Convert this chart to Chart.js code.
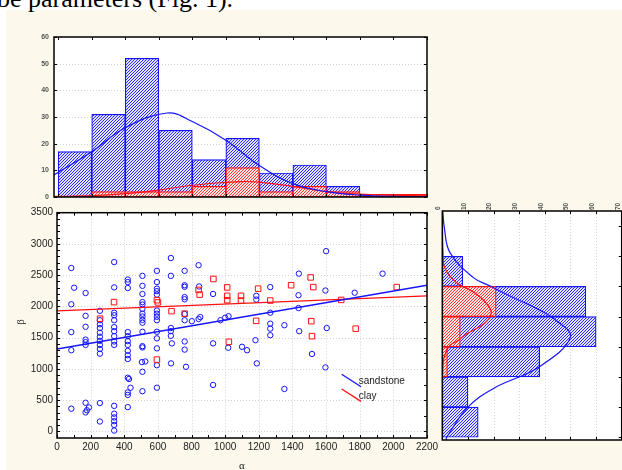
<!DOCTYPE html>
<html>
<head>
<meta charset="utf-8">
<script src="https://cdn.jsdelivr.net/npm/chart.js@4/dist/chart.umd.min.js"></script>
<style>
  html, body { margin: 0; padding: 0; width: 622px; height: 470px; overflow: hidden; background: #ffffff; }
  #paper { position: absolute; left: 6px; top: 10px; right: 0; bottom: 0; background: #fdf8ec; }
  #caption { position: absolute; left: -3px; top: -14px; font: 26px "Liberation Serif", "Times New Roman", serif;
             line-height: 26px; color: #000; white-space: nowrap; }
  canvas { position: absolute; }
  #cTop  { left: 0;     top: 20px;  width: 440px; height: 180px; }
  #cMain { left: 0;     top: 200px; width: 460px; height: 270px; }
  #cSide { left: 430px; top: 195px; width: 192px; height: 275px; }
</style>
</head>
<body>
<div id="paper"></div>
<div id="caption">be parameters (Fig. 1).</div>
<canvas id="cTop" width="440" height="180"></canvas>
<canvas id="cMain" width="460" height="270"></canvas>
<canvas id="cSide" width="192" height="275"></canvas>
<script>
// ---- α histogram (bins of width 200) ----
const alphaBinCentres = [100, 300, 500, 700, 900, 1100, 1300, 1500, 1700, 1900, 2100];
const alphaSandstone  = [17, 31, 52, 25, 14, 22, 9, 12, 4, 0, 0];
const alphaClay       = [0, 2, 2, 2, 4, 11, 2, 4, 2, 1, 1];
const alphaFitSandX   = [-25, 200, 400, 650, 800, 1000, 1200, 1400, 1600, 1800, 2000, 2200];
const alphaFitSandY   = [8.3, 17, 26, 31.5, 28.3, 21.3, 11.8, 5, 2, 0.7, 0.2, 0.05];
const alphaFitClayX   = [-25, 200, 400, 600, 800, 1000, 1100, 1200, 1400, 1600, 1800, 2000, 2200];
const alphaFitClayY   = [0.2, 0.5, 1.3, 2.6, 4.4, 5.5, 5.8, 5.6, 4, 2, 1.1, 0.7, 0.4];
const countTicksTop   = [0, 10, 20, 30, 40, 50, 60];

// ---- β histogram (bins of width 500) ----
const betaBinCentres  = [250, 750, 1250, 1750, 2250, 2750, 3250];
const betaSandstone   = [14, 10, 38, 60, 56, 8, 0];
const betaClay        = [0, 0, 2, 7, 21, 0, 0];
const betaFitSandV    = [-45, 0, 500, 810, 1170, 1660, 1940, 2110, 2300, 2510, 2650, 3060, 3470, 3740];
const betaFitSandN    = [1.5, 1.7, 10, 20, 37.9, 50, 44.3, 37.9, 28.5, 18.5, 12, 3, 0.8, 0.2];
const betaFitClayV    = [-45, 800, 1230, 1500, 1600, 1710, 1890, 2060, 2220, 2410, 2560, 2800, 3060, 3740];
const betaFitClayN    = [0, 0, 0.3, 2.5, 6, 9.5, 16.5, 19.1, 17.2, 12, 5.6, 1, 0.3, 0];
const countTicksSide  = [0, 10, 20, 30, 40, 50, 60, 70];
const betaBinEdges    = [0, 500, 1000, 1500, 2000, 2500, 3000, 3500];

// ---- scatter: [α, β] ----
const sandstonePoints = [
  [85,2615],[102,2300],[85,2035],[85,1590],[85,1300],[85,365],
  [170,2215],[170,1850],[170,1675],[170,1470],[170,1430],[170,1385],[170,460],[190,385],[178,340],[170,305],
  [255,1930],[255,1780],[255,1715],[255,1655],[255,1580],[255,1515],[255,1450],[255,1385],[255,1320],[255,1245],[255,455],[255,160],
  [340,2710],[340,2305],[340,1900],[340,1860],[340,1780],[340,1670],[340,1605],[340,1525],[340,1440],[340,1385],
  [340,410],[340,285],[340,225],[340,165],[340,105],[340,15],
  [421,2430],[421,2390],[421,2295],[421,1590],[421,1525],[421,1445],[421,1385],[421,1290],[421,1220],[421,1160],
  [421,860],[428,840],[437,700],[421,625],[421,585],[421,390],
  [508,2490],[508,2330],[508,2200],[508,2070],[508,2030],[508,1960],[508,1885],[508,1840],[508,1785],[508,1740],
  [508,1595],[508,1365],[508,1345],[505,1110],[525,1120],[508,955],[508,645],
  [594,2570],[594,2390],[594,2285],[594,2245],[594,2190],[594,1935],[594,1885],[594,1835],[594,1780],[594,1595],
  [594,1490],[594,1330],[594,1060],[594,700],
  [677,2775],[677,2490],[677,1655],[677,1605],[677,1530],[683,1410],[678,1090],
  [759,2570],[759,2340],[759,2315],[759,2150],[759,2115],[759,1880],[759,1780],[759,1440],[759,1310],[767,1035],
  [802,1765],[842,2660],[845,2320],[842,1800],[852,1830],
  [928,2200],[928,1410],[928,745],
  [972,1780],[1000,1820],[1020,1845],[1018,1340],
  [1100,1355],[1130,1300],
  [1185,2170],[1185,2110],[1180,1460],[1188,1090],
  [1268,2310],[1268,1900],[1268,1725],[1268,1645],[1268,1540],
  [1352,1700],[1352,680],
  [1438,2525],[1436,2180],[1436,1975],[1440,1605],
  [1516,1240],
  [1600,2885],[1596,2255],[1604,1655],[1596,1025],
  [1770,2220],[1936,2525]
];
const clayPoints = [
  [256,1805],[339,2070],[594,2100],[600,2065],[594,1150],[681,1925],[759,1885],[842,2265],[848,2190],
  [930,2440],[1012,2305],[1012,2170],[1012,2100],[1022,1435],[1094,2170],[1094,2095],[1196,2285],
  [1184,1770],[1268,2095],[1392,2340],[1508,2465],[1524,2310],[1512,1765],[1516,1525],[1690,2105],
  [1776,1645],[2020,2310]
];
// regression lines (end points)
const fitLineAlpha     = [0, 2200];
const fitLineSandstone = [1320, 2340];
const fitLineClay      = [1930, 2170];
const alphaTicks = [0, 200, 400, 600, 800, 1000, 1200, 1400, 1600, 1800, 2000, 2200];
const betaTicks  = [0, 500, 1000, 1500, 2000, 2500, 3000, 3500];
const seriesNames = ['sandstone', 'clay'];

const BLUE = '#1414ff';
const RED  = '#ff1010';
const SANS = '"Liberation Sans", Arial, sans-serif';

const xy = (xs, ys) => xs.map((x, i) => ({ x: x, y: ys[i] }));
const pairs = list => list.map(p => ({ x: p[0], y: p[1] }));
const asTicks = vals => vals.map(v => ({ value: v }));
const plain = v => String(v);

// diagonal hatch fill for the histogram bars
function hatch(ink, paper) {
  const tile = document.createElement('canvas');
  tile.width = 3; tile.height = 3;
  const g = tile.getContext('2d');
  g.fillStyle = paper; g.fillRect(0, 0, 3, 3);
  g.fillStyle = ink;
  for (let i = 0; i < 3; i++) g.fillRect(i, 2 - i, 1, 1);
  return document.createElement('canvas').getContext('2d').createPattern(tile, 'repeat');
}
const blueHatch = hatch('#2a2aff', '#e2e2ff');
const redHatch  = hatch('#ff3030', '#ffe6e6');

// white plot area, dotted grid, black frame and inward tick marks
function framePlugin(cfg) {
  return {
    id: 'frame',
    beforeDraw(chart) {
      const { ctx, chartArea: a } = chart;
      ctx.save();
      ctx.fillStyle = '#ffffff';
      ctx.fillRect(a.left, a.top, a.right - a.left, a.bottom - a.top);
      ctx.restore();
    },
    beforeDatasetsDraw(chart) {
      const { ctx, chartArea: a, scales } = chart;
      ctx.save();
      ctx.strokeStyle = '#d2d2d2';
      ctx.lineWidth = 1;
      ctx.setLineDash([1, 2]);
      (cfg.gridX || []).forEach(v => {
        const x = Math.round(scales.x.getPixelForValue(v)) + 0.5;
        ctx.beginPath(); ctx.moveTo(x, a.top); ctx.lineTo(x, a.bottom); ctx.stroke();
      });
      (cfg.gridY || []).forEach(v => {
        const y = Math.round(scales.y.getPixelForValue(v)) + 0.5;
        ctx.beginPath(); ctx.moveTo(a.left, y); ctx.lineTo(a.right, y); ctx.stroke();
      });
      ctx.restore();
    },
    afterDraw(chart) {
      const { ctx, chartArea: a, scales } = chart;
      ctx.save();
      ctx.strokeStyle = '#000';
      ctx.lineWidth = 1;
      (cfg.ticks || []).forEach(t => {
        for (let v = t.from; v <= t.to + 1e-9; v += t.step) {
          ctx.beginPath();
          if (t.edge === 'bottom' || t.edge === 'top') {
            const x = Math.round(scales.x.getPixelForValue(v)) + 0.5;
            const y0 = t.edge === 'bottom' ? a.bottom : a.top;
            const d = t.edge === 'bottom' ? -t.len : t.len;
            ctx.moveTo(x, y0); ctx.lineTo(x, y0 + d);
          } else {
            const y = Math.round(scales.y.getPixelForValue(v)) + 0.5;
            const x0 = t.edge === 'left' ? a.left : a.right;
            const d = t.edge === 'left' ? t.len : -t.len;
            ctx.moveTo(x0, y); ctx.lineTo(x0 + d, y);
          }
          ctx.stroke();
        }
      });
      ctx.lineWidth = 1.5;
      ctx.strokeRect(a.left, a.top, a.right - a.left, a.bottom - a.top);
      ctx.restore();
      if (cfg.extra) cfg.extra(chart);
    }
  };
}

const barCommon = { grouped: false, barPercentage: 1, categoryPercentage: 1, borderWidth: 1.2, borderSkipped: false };
const hiddenGrid = { display: false, drawTicks: false };
const curve = { pointRadius: 0, borderWidth: 1.2, tension: 0.4, order: 0 };

// ---- top: α histogram ----
new Chart(document.getElementById('cTop'), {
  type: 'bar',
  data: {
    datasets: [
      Object.assign({ type: 'line', data: xy(alphaFitSandX, alphaFitSandY), borderColor: BLUE }, curve),
      Object.assign({ type: 'line', data: xy(alphaFitClayX, alphaFitClayY), borderColor: RED }, curve),
      Object.assign({ data: xy(alphaBinCentres, alphaClay), backgroundColor: redHatch, borderColor: RED, order: 1 }, barCommon),
      Object.assign({ data: xy(alphaBinCentres, alphaSandstone), backgroundColor: blueHatch, borderColor: BLUE, order: 2 }, barCommon)
    ]
  },
  options: {
    responsive: false, animation: false, events: [],
    layout: { padding: { left: 0, right: 13, top: 17, bottom: 3 } },
    plugins: { legend: { display: false }, tooltip: { enabled: false } },
    scales: {
      x: { type: 'linear', min: -25, max: 2200, offset: false, display: false,
           afterBuildTicks: s => { s.ticks = asTicks(alphaTicks); } },
      y: { type: 'linear', min: 0, max: 60, grid: hiddenGrid, border: { display: false },
           afterBuildTicks: s => { s.ticks = asTicks(countTicksTop); },
           ticks: { font: { family: SANS, size: 7, weight: 'bold' }, color: '#555', padding: 5, callback: plain },
           afterFit: s => { s.width = 54; s.paddingTop = 0; s.paddingBottom = 0; } }
    }
  },
  plugins: [framePlugin({
    gridY: [10, 20, 30, 40, 50],
    ticks: [
      { edge: 'top', from: 0, to: 2200, step: 200, len: 3 },
      { edge: 'bottom', from: 0, to: 2200, step: 200, len: 3 },
      { edge: 'left', from: 0, to: 60, step: 10, len: 3 },
      { edge: 'right', from: 0, to: 60, step: 10, len: 3 }
    ]
  })]
});

// ---- main: β against α ----
new Chart(document.getElementById('cMain'), {
  type: 'scatter',
  data: {
    datasets: [
      { label: seriesNames[0], type: 'line', data: xy(fitLineAlpha, fitLineSandstone), borderColor: BLUE,
        borderWidth: 1.4, pointRadius: 0, order: 0 },
      { label: seriesNames[1], type: 'line', data: xy(fitLineAlpha, fitLineClay), borderColor: RED,
        borderWidth: 1.4, pointRadius: 0, order: 0 },
      { data: pairs(clayPoints), pointStyle: 'rect', radius: 3.9, borderColor: RED,
        backgroundColor: 'rgba(0,0,0,0)', borderWidth: 1, order: 1 },
      { data: pairs(sandstonePoints), pointStyle: 'circle', radius: 2.7, borderColor: BLUE,
        backgroundColor: 'rgba(0,0,0,0)', borderWidth: 1, order: 2 }
    ]
  },
  options: {
    responsive: false, animation: false, events: [],
    layout: { padding: { left: 0, right: 33, top: 12.7, bottom: 0 } },
    plugins: { legend: { display: false }, tooltip: { enabled: false } },
    scales: {
      x: { type: 'linear', min: 0, max: 2200, grid: hiddenGrid, border: { display: false },
           afterBuildTicks: s => { s.ticks = asTicks(alphaTicks); },
           ticks: { font: { family: SANS, size: 10 }, color: '#222', padding: 3, maxRotation: 0, callback: plain },
           afterFit: s => { s.height = 32; s.paddingLeft = 0; s.paddingRight = 0; } },
      y: { type: 'linear', min: -104, max: 3500, grid: hiddenGrid, border: { display: false },
           afterBuildTicks: s => { s.ticks = asTicks(betaTicks); },
           ticks: { font: { family: SANS, size: 10 }, color: '#222', padding: 4, callback: plain },
           afterFit: s => { s.width = 57; s.paddingTop = 0; s.paddingBottom = 0; } }
    }
  },
  plugins: [framePlugin({
    gridX: alphaTicks.slice(1, -1),
    gridY: betaTicks.slice(0, -1),
    ticks: [
      { edge: 'bottom', from: 0, to: 2200, step: 100, len: 3 },
      { edge: 'top', from: 0, to: 2200, step: 100, len: 3 },
      { edge: 'left', from: 0, to: 3500, step: 100, len: 3 },
      { edge: 'right', from: 0, to: 3500, step: 250, len: 3 }
    ],
    extra(chart) {
      const ctx = chart.ctx;
      ctx.save();
      // legend
      ctx.lineWidth = 1.3;
      [[BLUE, 174.3], [RED, 189]].forEach(([c, y], i) => {
        ctx.strokeStyle = c;
        ctx.beginPath(); ctx.moveTo(341.7, y); ctx.lineTo(361, y + 12.4); ctx.stroke();
        ctx.fillStyle = '#222';
        ctx.font = '10px ' + SANS;
        ctx.textBaseline = 'middle';
        ctx.textAlign = 'left';
        ctx.fillText(seriesNames[i], 358.7, y + 7);
      });
      // axis titles
      ctx.fillStyle = '#222';
      ctx.font = '11px "Liberation Serif", "Times New Roman", serif';
      ctx.textAlign = 'center';
      ctx.textBaseline = 'middle';
      ctx.fillText('α', 242, 266);
      ctx.translate(21, 122);
      ctx.rotate(-Math.PI / 2);
      ctx.fillText('β', 0, 0);
      ctx.restore();
    }
  })]
});

// ---- side: β histogram ----
new Chart(document.getElementById('cSide'), {
  type: 'bar',
  data: {
    datasets: [
      Object.assign({ type: 'line', indexAxis: 'y', data: xy(betaFitSandN, betaFitSandV), borderColor: BLUE }, curve),
      Object.assign({ type: 'line', indexAxis: 'y', data: xy(betaFitClayN, betaFitClayV), borderColor: RED }, curve),
      Object.assign({ indexAxis: 'y', data: xy(betaClay, betaBinCentres), backgroundColor: redHatch, borderColor: RED, order: 1 }, barCommon),
      Object.assign({ indexAxis: 'y', data: xy(betaSandstone, betaBinCentres), backgroundColor: blueHatch, borderColor: BLUE, order: 2 }, barCommon)
    ]
  },
  options: {
    indexAxis: 'y',
    responsive: false, animation: false, events: [],
    layout: { padding: { left: 12.3, right: 0.3, top: 0, bottom: 30 } },
    plugins: { legend: { display: false }, tooltip: { enabled: false } },
    scales: {
      x: { type: 'linear', position: 'top', min: 0, max: 70, grid: hiddenGrid, border: { display: false },
           afterBuildTicks: s => { s.ticks = asTicks(countTicksSide); },
           ticks: { font: { family: SANS, size: 6.5, weight: 'bold' }, color: '#555', padding: 1,
                    minRotation: 90, maxRotation: 90, labelOffset: 3.9, callback: plain },
           afterFit: s => { s.height = 16; s.paddingLeft = 0; s.paddingRight = 0; } },
      y: { type: 'linear', min: -45, max: 3750, offset: false, display: false,
           afterBuildTicks: s => { s.ticks = asTicks(betaBinEdges); } }
    }
  },
  plugins: [framePlugin({
    gridX: [10, 20, 30, 40, 50, 60],
    ticks: [
      { edge: 'bottom', from: 0, to: 70, step: 10, len: 3 },
      { edge: 'top', from: 0, to: 70, step: 10, len: 3 },
      { edge: 'right', from: 0, to: 3500, step: 500, len: 3 }
    ]
  })]
});
</script>
</body>
</html>
